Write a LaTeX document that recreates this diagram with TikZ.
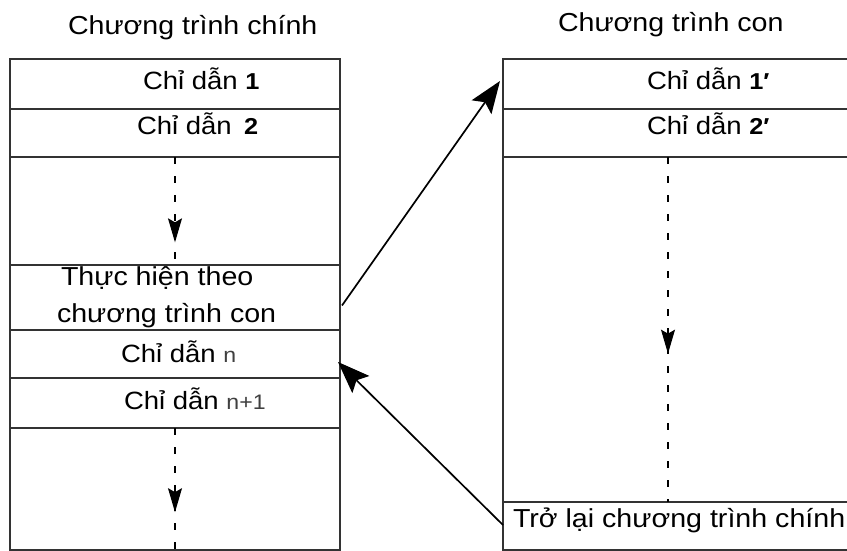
\documentclass[tikz,border=0pt]{standalone}
\usepackage{fontspec}
\usepackage{graphicx}
\setmainfont{Liberation Sans}
\usetikzlibrary{arrows.meta,decorations.markings}

% slightly widened sans text, as set in the original drawing
\newcommand\wtext[2]{\scalebox{1.1}[1]{\fontsize{#1}{#1}\selectfont #2}}
\newcommand\idx[1]{{\fontsize{23}{23}\selectfont\bfseries #1}}
\newcommand\nidx[1]{{\color{black!75}\fontsize{21}{21}\selectfont #1}}

\begin{document}
\begin{tikzpicture}[x=1pt,y=-1pt,
  cell/.style={draw=black!80, line width=1.2pt, inner sep=0pt, outer sep=0pt,
               anchor=north west},
  leftcell/.style={cell, minimum width=330pt},
  rightcell/.style={cell, minimum width=350pt},
  txt/.style={anchor=base west, inner sep=0pt, outer sep=0pt},
  flow/.style={line width=1.1pt, dash pattern=on 7pt off 12pt,
    postaction={decorate},
    decoration={markings,
      mark=at position #1 with {\arrow{Stealth[length=24pt,width=14pt,inset=4pt]}}}},
  jump/.style={line width=1.7pt, -{Stealth[length=32pt,width=24pt,inset=6pt]}}]

\useasboundingbox (0,0) rectangle (847,551);
\clip (0,0) rectangle (847,551);
\fill[white] (0,0) rectangle (847,551);

% column titles
\node[txt] (tmain) at (68,35) {\wtext{26}{Chương trình chính}};
\node[txt] (tsub)  at (558,32) {\wtext{26}{Chương trình con}};

% main program column
\node[leftcell, minimum height=50pt]  (r1) at (10,59)  {};
\node[leftcell, minimum height=48pt]  (r2) at (10,109) {};
\node[leftcell, minimum height=108pt] (r3) at (10,157) {};
\node[leftcell, minimum height=65pt]  (r4) at (10,265) {};
\node[leftcell, minimum height=48pt]  (r5) at (10,330) {};
\node[leftcell, minimum height=50pt]  (r6) at (10,378) {};
\node[leftcell, minimum height=122pt] (r7) at (10,428) {};

\node[txt] (r1t) at (143,89)  {\wtext{25}{Chỉ dẫn \idx{1}}};
\node[txt] (r2t) at (137,135) {\wtext{25}{Chỉ dẫn\ \,\idx{2}}};
\node[txt] (r4a) at (61,285)  {\wtext{26}{Thực hiện theo}};
\node[txt] (r4b) at (57,322)  {\wtext{26}{chương trình con}};
\node[txt] (r5t) at (121,362) {\wtext{25}{Chỉ dẫn \nidx{n}}};
\node[txt] (r6t) at (124,409) {\wtext{25}{Chỉ dẫn \nidx{n+1}}};

% subroutine column
\node[rightcell, minimum height=50pt]  (s1) at (503,59)  {};
\node[rightcell, minimum height=48pt]  (s2) at (503,109) {};
\node[rightcell, minimum height=345pt] (s3) at (503,157) {};
\node[rightcell, minimum height=48pt]  (s4) at (503,502) {};

\node[txt] (s1t) at (647,89)  {\wtext{25}{Chỉ dẫn \idx{1′}}};
\node[txt] (s2t) at (647,135) {\wtext{25}{Chỉ dẫn \idx{2′}}};
\node[txt] (s4t) at (513,527) {\wtext{26}{Trở lại chương trình chính}};

% sequential flow inside each column
\draw[flow=0.79] (r3.north) -- (r3.south);
\draw[flow=0.69] (r7.north) -- (r7.south);
\draw[flow=0.57] ([xshift=-10pt]s3.north) -- ([xshift=-10pt]s3.south);

% call and return
\draw[jump] ([shift={(2,8)}]r4.east) -- ([shift={(-3,-3)}]s1.west);
\draw[jump] ([shift={(0,-1)}]s4.west) -- ([shift={(-2,8)}]r5.east);

\end{tikzpicture}
\end{document}
